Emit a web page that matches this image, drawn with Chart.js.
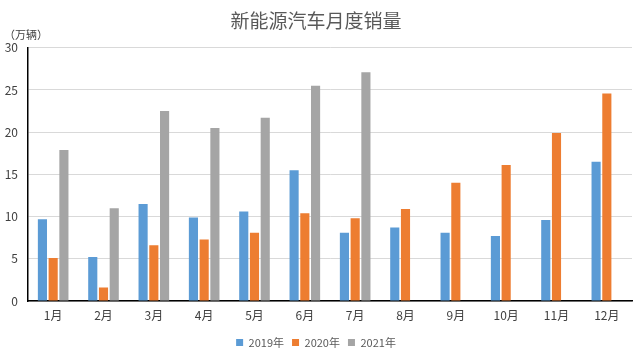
<!DOCTYPE html>
<html>
<head>
<meta charset="utf-8">
<script src="https://cdn.jsdelivr.net/npm/chart.js@4"></script>
<style>
    html, body { margin: 0; padding: 0; background: #fff; }
    #wrap { width: 637px; height: 358px; position: relative; }
</style>
</head>
<body>
<div id="wrap"><canvas id="sales-chart"></canvas></div>
<script>
// 新能源汽车月度销量 (万辆)
const months = ['1月', '2月', '3月', '4月', '5月', '6月', '7月', '8月', '9月', '10月', '11月', '12月'];
const sales2019 = [9.7, 5.2, 11.5, 9.9, 10.6, 15.5, 8.1, 8.7, 8.1, 7.7, 9.6, 16.5];
const sales2020 = [5.1, 1.6, 6.6, 7.3, 8.1, 10.4, 9.8, 10.9, 14.0, 16.1, 19.9, 24.6];
const sales2021 = [17.9, 11.0, 22.5, 20.5, 21.7, 25.5, 27.1, null, null, null, null, null];
const yTicks = [0, 5, 10, 15, 20, 25, 30];

const FONT = '"Noto Sans CJK SC", "Noto Sans", sans-serif';

// unit label above the y axis
const unitLabel = {
    id: 'unitLabel',
    afterDraw(chart) {
        const ctx = chart.ctx;
        ctx.save();
        ctx.font = '11px ' + FONT;
        ctx.fillStyle = '#404040';
        ctx.textBaseline = 'middle';
        ctx.fillText('（万辆）', 4, 35);
        ctx.restore();
    }
};

const ctx = document.getElementById('sales-chart').getContext('2d');
new Chart(ctx, {
    type: 'bar',
    data: {
        labels: months,
        datasets: [{
            label: '2019年',
            data: sales2019,
            backgroundColor: '#5B9BD5'
        }, {
            label: '2020年',
            data: sales2020,
            backgroundColor: '#ED7D31'
        }, {
            label: '2021年',
            data: sales2021,
            backgroundColor: '#A5A5A5'
        }]
    },
    options: {
        responsive: true,
        maintainAspectRatio: false,
        animation: false,
        categoryPercentage: 0.64,
        barPercentage: 0.85,
        layout: {
            padding: { left: 0, right: 5, top: 7, bottom: 0 }
        },
        plugins: {
            title: {
                display: true,
                text: '新能源汽车月度销量',
                color: '#595959',
                font: { family: FONT, size: 19, weight: 'normal' },
                padding: { top: 2, bottom: 16 }
            },
            legend: {
                position: 'bottom',
                labels: {
                    boxWidth: 7,
                    boxHeight: 7,
                    padding: 8,
                    color: '#595959',
                    font: { family: FONT, size: 11 }
                }
            },
            tooltip: { enabled: false }
        },
        scales: {
            x: {
                grid: { display: false, drawTicks: false },
                border: { color: '#000', width: 1.5 },
                afterFit(scale) { scale.height = 28; },
                ticks: {
                    color: '#404040',
                    font: { family: FONT, size: 12 },
                    padding: 7
                }
            },
            y: {
                min: 0,
                max: 30,
                afterFit(scale) { scale.width = 28; },
                afterBuildTicks(scale) {
                    scale.ticks = yTicks.map(v => ({ value: v }));
                },
                grid: {
                    color: '#D9D9D9',
                    drawTicks: false
                },
                border: { color: '#000', width: 1.5 },
                ticks: {
                    color: '#404040',
                    font: { family: FONT, size: 12 },
                    padding: 10
                }
            }
        }
    },
    plugins: [unitLabel]
});
</script>
</body>
</html>
